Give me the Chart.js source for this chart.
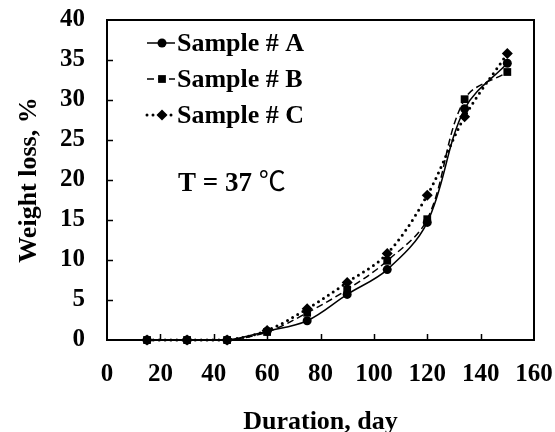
<!DOCTYPE html>
<html><head><meta charset="utf-8">
<script src="https://cdn.jsdelivr.net/npm/chart.js@4/dist/chart.umd.min.js"></script>
<style>html,body{margin:0;padding:0;background:#fff}canvas{display:block}</style>
</head><body>
<canvas id="c" width="555" height="432"></canvas>
<script>
const days = [15, 30, 45, 60, 75, 90, 105, 120, 134, 150];
const sampleA = [0, 0, 0, 1.1, 2.4, 5.7, 8.8, 14.7, 28.9, 34.6];
const sampleB = [0, 0, 0, 1.0, 3.4, 6.3, 9.9, 15.1, 30.1, 33.5];
const sampleC = [0, 0, 0, 1.2, 3.9, 7.2, 10.8, 18.1, 27.9, 35.8];
const seriesNames = ['Sample # A', 'Sample # B', 'Sample # C'];
const xTicks = [0, 20, 40, 60, 80, 100, 120, 140, 160];
const yTicks = [0, 5, 10, 15, 20, 25, 30, 35, 40];
const annotationText = 'T = 37 ';
const annotationUnit = '\u2103';

const SERIF = '"Liberation Serif", "Times New Roman", serif';
const styles = [
  {pointStyle: 'circle', pointRadius: 4.5, borderDash: [], borderWidth: 1.5, cap: 'butt'},
  {pointStyle: 'rect', pointRadius: 5.5, borderDash: [7, 4], borderWidth: 1.5, cap: 'butt'},
  {pointStyle: 'rectRot', pointRadius: 5.5, borderDash: [0, 6], borderWidth: 3, cap: 'round'}
];
const seriesData = [sampleA, sampleB, sampleC];

const datasets = seriesData.map((vals, i) => ({
  label: seriesNames[i],
  data: days.map((d, k) => ({x: d, y: vals[k]})),
  borderColor: '#000',
  backgroundColor: '#000',
  borderWidth: styles[i].borderWidth,
  borderDash: styles[i].borderDash,
  borderCapStyle: styles[i].cap,
  pointStyle: styles[i].pointStyle,
  pointRadius: styles[i].pointRadius,
  pointBorderWidth: 0,
  pointBackgroundColor: '#000',
  tension: 0.35,
  clip: false,
  order: i
}));

function drawMarker(ctx, style, x, y, r) {
  ctx.beginPath();
  if (style === 'circle') {
    ctx.arc(x, y, r, 0, Math.PI * 2);
  } else if (style === 'rect') {
    const s = r * Math.SQRT1_2;
    ctx.rect(x - s, y - s, 2 * s, 2 * s);
  } else {
    ctx.moveTo(x, y - r); ctx.lineTo(x + r, y); ctx.lineTo(x, y + r); ctx.lineTo(x - r, y); ctx.closePath();
  }
  ctx.fillStyle = '#000';
  ctx.fill();
}

const decor = {
  id: 'decor',
  beforeDatasetsDraw(chart) {
    const {ctx, chartArea: a, scales: {x, y}} = chart;
    ctx.save();
    ctx.strokeStyle = '#000';
    ctx.lineWidth = 2;
    ctx.strokeRect(a.left, a.top, a.right - a.left, a.bottom - a.top);
    ctx.lineWidth = 1.5;
    ctx.beginPath();
    xTicks.slice(1, -1).forEach(v => {
      const px = Math.round(x.getPixelForValue(v)) + 0.5;
      ctx.moveTo(px, a.bottom); ctx.lineTo(px, a.bottom - 6);
    });
    yTicks.slice(1, -1).forEach(v => {
      const py = Math.round(y.getPixelForValue(v)) + 0.5;
      ctx.moveTo(a.left, py); ctx.lineTo(a.left + 6, py);
    });
    ctx.stroke();
    ctx.restore();
  },
  afterDraw(chart) {
    const {ctx, chartArea: a} = chart;
    ctx.save();
    // legend
    const rows = [a.top + 23, a.top + 59, a.top + 95];
    const x0 = a.left + 40, x1 = a.left + 68, xm = a.left + 55;
    chart.data.datasets.forEach((ds, i) => {
      const yy = rows[i];
      ctx.strokeStyle = '#000';
      ctx.lineWidth = ds.borderWidth;
      ctx.setLineDash(ds.borderDash);
      ctx.lineCap = ds.borderCapStyle;
      ctx.beginPath();
      ctx.moveTo(x0, yy); ctx.lineTo(x1, yy);
      ctx.stroke();
      ctx.setLineDash([]);
      drawMarker(ctx, ds.pointStyle, xm, yy, ds.pointRadius);
      ctx.fillStyle = '#000';
      ctx.font = 'bold 26px ' + SERIF;
      ctx.textBaseline = 'middle';
      ctx.textAlign = 'left';
      ctx.fillText(ds.label, a.left + 70, yy + 1);
    });
    // annotation
    ctx.font = 'bold 27px ' + SERIF;
    ctx.textBaseline = 'middle';
    const tx = a.left + 71, ty = a.top + 164;
    ctx.fillText(annotationText, tx, ty);
    const w = ctx.measureText(annotationText).width;
    ctx.font = '27px ' + SERIF + ', "Noto Sans CJK SC"';
    ctx.fillText(annotationUnit, tx + w, ty);
    ctx.restore();
  }
};

new Chart(document.getElementById('c'), {
  type: 'line',
  data: {datasets},
  plugins: [decor],
  options: {
    responsive: false,
    animation: false,
    events: [],
    layout: {padding: {left: 0, right: 21, top: 20, bottom: 0}},
    plugins: {legend: {display: false}, tooltip: {enabled: false}},
    scales: {
      x: {
        type: 'linear', min: 0, max: 160,
        afterBuildTicks: s => { s.ticks = xTicks.map(v => ({value: v})); },
        afterFit: s => { s.height = 92; s.paddingLeft = 0; s.paddingRight = 0; },
        grid: {display: false, drawTicks: false},
        border: {display: false},
        ticks: {color: '#000', padding: 20, maxRotation: 0, font: {family: SERIF, size: 25, weight: 'bold'}},
        title: {display: true, text: 'Duration, day', color: '#000', padding: {top: 0, bottom: -6},
                font: {family: SERIF, size: 26, weight: 'bold'}}
      },
      y: {
        type: 'linear', min: 0, max: 40,
        afterBuildTicks: s => { s.ticks = yTicks.map(v => ({value: v})); },
        afterFit: s => { s.width = 107; s.paddingTop = 0; s.paddingBottom = 0; },
        grid: {display: false, drawTicks: false},
        border: {display: false},
        ticks: {color: '#000', padding: 22, font: {family: SERIF, size: 25, weight: 'bold'}},
        title: {display: true, text: 'Weight loss, %', color: '#000', padding: {top: 14, bottom: 0},
                font: {family: SERIF, size: 26, weight: 'bold'}}
      }
    }
  }
});
</script>
</body></html>
